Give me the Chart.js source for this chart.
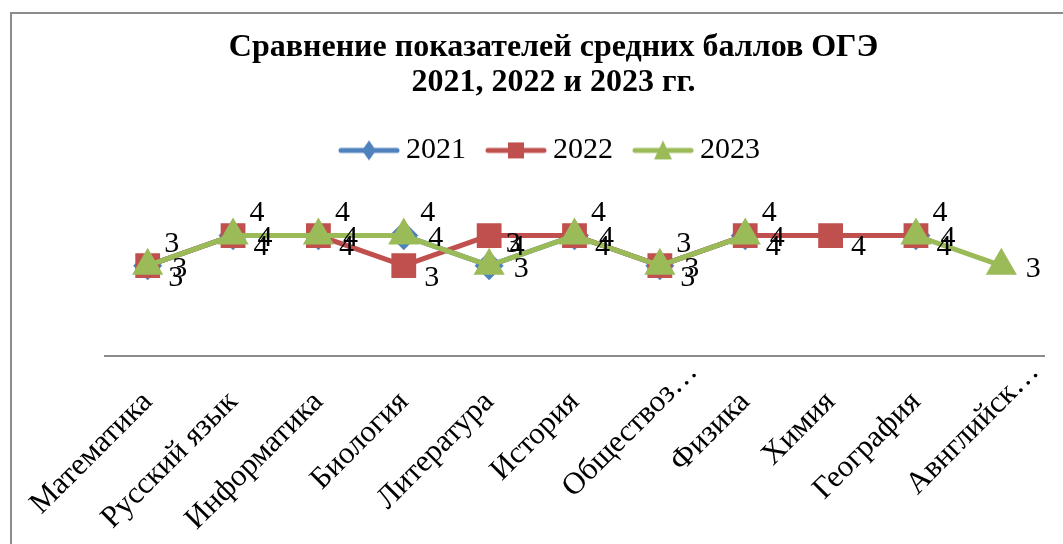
<!DOCTYPE html>
<html>
<head>
<meta charset="utf-8">
<script src="https://cdn.jsdelivr.net/npm/chart.js@4/dist/chart.umd.min.js"></script>
<style>
  html, body { margin: 0; padding: 0; background: #fff; overflow: hidden; }
  #wrap { position: relative; width: 1063px; height: 544px; }
  #frame { position: absolute; left: 10px; top: 12px; width: 1100px; height: 600px; border: 2px solid #8c8c8c; box-sizing: border-box; }
  #chart { position: absolute; left: 0; top: 0; }
</style>
</head>
<body>
<div id="wrap">
  <div id="frame"></div>
  <canvas id="chart" width="1063" height="544"></canvas>
</div>
<script>
// Предметы и средние баллы по годам
const predmety = ["Математика", "Русский язык", "Информатика", "Биология", "Литература",
  "История", "Обществоз…", "Физика", "Химия", "География", "Авнглийск…"];
const bally2021 = [3, 4, 4, 4, 3, 4, 3, 4, null, 4, null];
const bally2022 = [3, 4, 4, 3, 4, 4, 3, 4, 4, 4, null];
const bally2023 = [3, 4, 4, 4, 3, 4, 3, 4, null, 4, 3];
const titleLines = ["Сравнение показателей средних баллов ОГЭ", "2021, 2022 и 2023 гг."];

const SERIF = "'Liberation Serif', 'Times New Roman', serif";
Chart.defaults.color = "#000";

// значок легенды: линия + маркер
function legendIcon(color, style) {
  const c = document.createElement("canvas");
  c.width = 62; c.height = 24;
  const g = c.getContext("2d");
  g.strokeStyle = color; g.fillStyle = color; g.lineWidth = 5; g.lineCap = "round";
  g.beginPath(); g.moveTo(3, 12); g.lineTo(59, 12); g.stroke();
  g.beginPath();
  if (style === "diamond") {
    g.moveTo(31, 2); g.lineTo(38, 12); g.lineTo(31, 22); g.lineTo(24, 12);
  } else if (style === "square") {
    g.rect(23, 4, 16, 16);
  } else {
    g.moveTo(31, 2); g.lineTo(40, 21); g.lineTo(22, 21);
  }
  g.closePath(); g.fill();
  return c;
}
const icons = [
  legendIcon("#4F81BD", "diamond"),
  legendIcon("#C0504D", "square"),
  legendIcon("#9BBB59", "triangle"),
];

// подписи значений у точек
const labelShift = [[24, -22], [28, 12], [32, 3]];
const valueLabels = {
  id: "valueLabels",
  afterDatasetsDraw(chart) {
    const ctx = chart.ctx;
    ctx.save();
    ctx.font = "30px " + SERIF;
    ctx.fillStyle = "#000";
    ctx.textAlign = "center";
    ctx.textBaseline = "middle";
    chart.data.datasets.forEach((ds, i) => {
      const meta = chart.getDatasetMeta(i);
      meta.data.forEach((pt, j) => {
        const v = ds.data[j];
        if (v === null || v === undefined) return;
        ctx.fillText(String(v), pt.x + labelShift[i][0], pt.y + labelShift[i][1]);
      });
    });
    ctx.restore();
  },
};

// обрезанные подписи (с «…») в Excel сдвинуты вверх-вправо
const shiftCut = {
  id: "shiftCut",
  beforeDraw(chart) {
    const items = chart.scales.x.getLabelItems();
    if (items._shifted) return;
    items.forEach((it) => {
      if (String(it.label).endsWith("…")) {
        const t = it.options.translation;
        it.options.translation = [t[0] + 33, t[1] - 30];
      }
    });
    items._shifted = true;
  },
};

new Chart(document.getElementById("chart"), {
  type: "line",
  data: {
    labels: predmety,
    datasets: [
      {
        label: "2021", data: bally2021, order: 3,
        borderColor: "#4F81BD", backgroundColor: "#4F81BD",
        pointStyle: "rectRot", pointRadius: 11, borderWidth: 5,
      },
      {
        label: "2022", data: bally2022, order: 2,
        borderColor: "#C0504D", backgroundColor: "#C0504D",
        pointStyle: "rect", pointRadius: 14, borderWidth: 5,
      },
      {
        label: "2023", data: bally2023, order: 1,
        borderColor: "#9BBB59", backgroundColor: "#9BBB59",
        pointStyle: "triangle", pointRadius: 13, borderWidth: 5,
      },
    ],
  },
  options: {
    responsive: false,
    animation: false,
    spanGaps: false,
    layout: { padding: { left: 60, right: 16, top: 0, bottom: 0 } },
    plugins: {
      title: {
        display: true,
        text: titleLines,
        font: { family: SERIF, size: 32, weight: "bold", lineHeight: 1.1 },
        padding: { top: 30, bottom: 7 },
      },
      legend: {
        display: true,
        labels: {
          font: { family: SERIF, size: 30 },
          usePointStyle: true,
          pointStyleWidth: 44,
          padding: 28,
          generateLabels(chart) {
            const items = Chart.defaults.plugins.legend.labels.generateLabels(chart);
            items.sort((a, b) => a.datasetIndex - b.datasetIndex);
            items.forEach((it) => { it.pointStyle = icons[it.datasetIndex]; });
            return items;
          },
        },
      },
      tooltip: { enabled: false },
    },
    scales: {
      x: {
        offset: true,
        grid: { display: false },
        border: { display: true, color: "#8c8c8c", width: 2 },
        ticks: {
          font: { family: SERIF, size: 31 },
          color: "#000",
          padding: 20,
          maxRotation: 45, minRotation: 45,
          autoSkip: false,
        },
        afterFit(s) { s.height = 188; },
      },
      y: {
        display: true,
        position: "left",
        min: 0, max: 6,
        grid: { display: false },
        border: { display: false },
        ticks: { display: false },
        afterFit(s) { s.width = 45; },
      },
    },
  },
  plugins: [valueLabels, shiftCut],
});
</script>
</body>
</html>
